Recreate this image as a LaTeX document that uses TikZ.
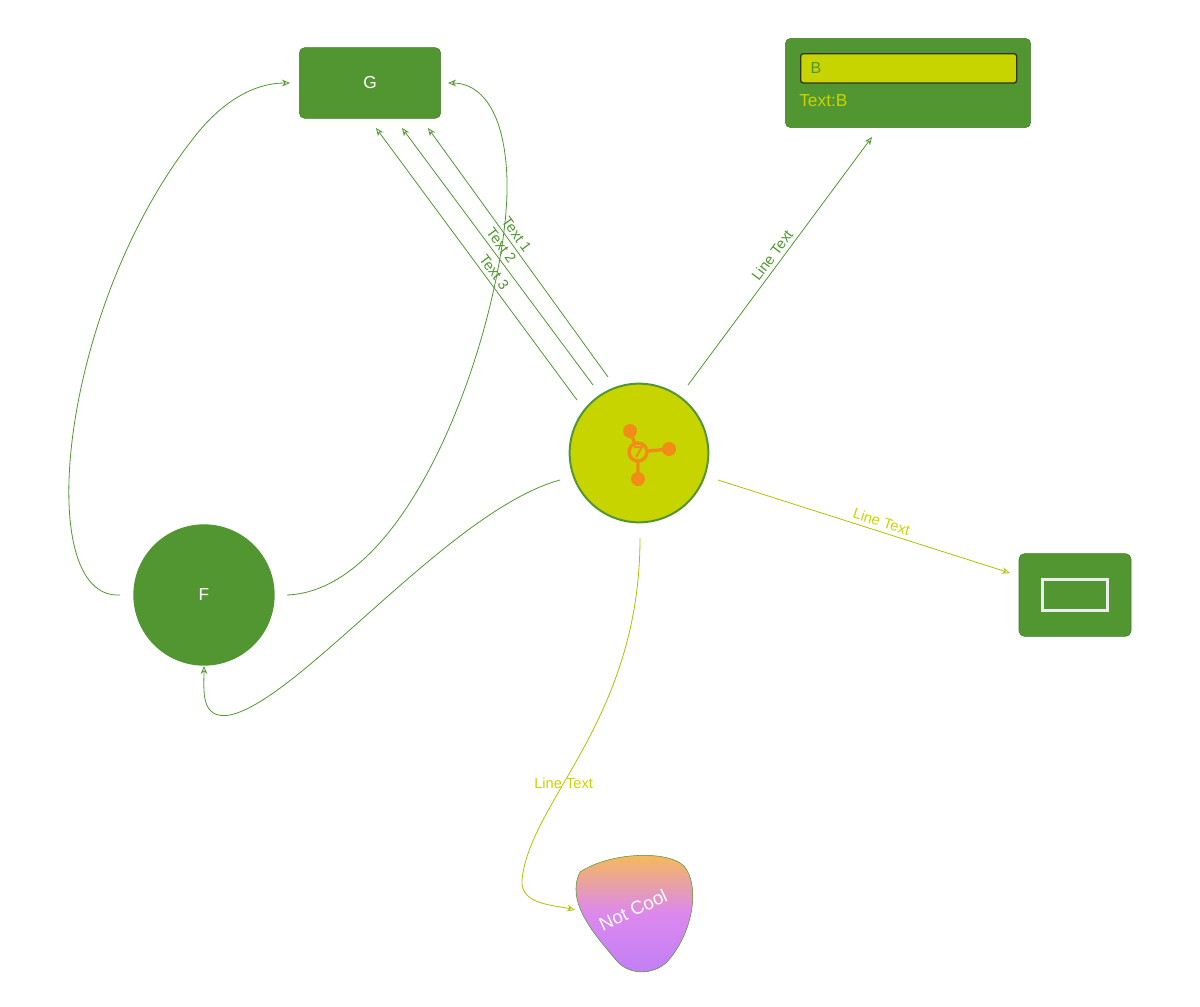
\documentclass[tikz,border=0pt]{standalone}
\usepackage{fontspec}
\setmainfont{Liberation Sans}
\usetikzlibrary{arrows.meta}
\definecolor{leaf}{HTML}{529632}
\definecolor{lime}{HTML}{C8D400}
\definecolor{tang}{HTML}{F28C18}
\definecolor{blobtop}{HTML}{F7BD4F}
\definecolor{blobmid}{HTML}{DC88EE}
\definecolor{blobbot}{HTML}{C07EF5}
\tikzset{
  box/.style={draw=leaf!80!black,fill=leaf,rounded corners=4pt,text=white,font=\fontsize{13}{15}\selectfont},
  link/.style={-{Stealth[open,length=6pt,width=5pt]},leaf,line width=0.6pt},
  ylink/.style={-{Stealth[open,length=6pt,width=5pt]},lime!90!black,line width=0.6pt},
  lbl/.style={font=\fontsize{11}{13}\selectfont,inner sep=3pt}
}
\begin{document}
\begin{tikzpicture}[x=0.75pt,y=-0.75pt]
    \useasboundingbox (0,0) rectangle (1200,1007);
    % nodes
    \node[box,minimum width=106pt,minimum height=53pt] (g) at (370,83) {G};
    \node[box,minimum width=184pt,minimum height=67pt] (b) at (908,83) {};
    \node[draw=black!80,fill=lime,rounded corners=2pt,minimum width=162pt,minimum height=22pt,line width=1pt,
          anchor=north west,text=leaf,inner sep=6pt] (bbar) at (800,53) {};
    \node[anchor=west,text=leaf,font=\fontsize{12}{14}\selectfont] (btxt) at (806,68) {B};
    \node[anchor=west,text=lime,font=\fontsize{13}{15}\selectfont,inner sep=0pt] (bl) at (799,101) {Text:B};
    \node[circle,draw=leaf,line width=1.5pt,fill=lime,minimum size=104pt] (hub) at (639,453) {};
    \node[circle,fill=leaf,minimum size=106pt,text=white,font=\fontsize{13}{15}\selectfont] (f) at (204,595) {F};
    \node[box,minimum width=84pt,minimum height=62pt] (sq) at (1075,595) {};
    \node[draw=white!85!gray,line width=2pt,fill=leaf,minimum width=49pt,minimum height=23pt] (sqin) at (1075,595) {};
    % icon
    \draw[tang,line width=2.5pt] (638,452) -- (630,431) (638,452) -- (669,449) (638,452) -- (638,479);
    \fill[tang] (630,431) circle (7) (669,449) circle (7) (638,479) circle (7);
    \draw[tang,line width=2.5pt,fill=lime] (638,452) circle (9);
    \draw[tang,line width=1.5pt] (634,447) -- (642,447) -- (636,457);
    % blob
    \shade[top color=blobtop,bottom color=blobbot,middle color=blobmid,draw=leaf]
      (580,872) .. controls (610,852) and (668,850) .. (684,866) .. controls (700,885) and (694,932) .. (667,962)
      .. controls (652,976) and (628,975) .. (616,960) .. controls (595,935) and (565,902) .. (580,872) -- cycle;
    \node[text=white,rotate=25,font=\fontsize{14}{16}\selectfont] (nc) at (633,910) {Not Cool};
    \coordinate (blobw) at (575,910);
    % edges to G
    \coordinate (h1) at (608,377); \coordinate (h2) at (593,385); \coordinate (h3) at (577,400);
    \draw[link] (h3) -- node[lbl,sloped,above,pos=0.45,text=leaf] {Text 3} (376,128);
    \draw[link] (h2) -- node[lbl,sloped,above,pos=0.52,text=leaf] {Text 2} (402,128);
    \draw[link] (h1) -- node[lbl,sloped,above,pos=0.55,text=leaf] {Text 1} (428,128);
    % other edges
    \draw[link] (688,385) -- node[lbl,sloped,above,text=leaf] {Line Text} (872,137);
    \draw[ylink] (718,480) -- node[lbl,sloped,above,pos=0.55,text=lime] {Line Text} (1010,573);
    \draw[link] (560,480) .. controls (450,510) and (300,700) .. (230,715) .. controls (200,720) and (204,690) .. (f.south);
    \draw[ylink] (640,538) .. controls (640,720) and (530,800) .. node[lbl,pos=0.62,text=lime] {Line Text} (522,880)
       .. controls (520,905) and (555,905) .. (blobw);
    \draw[link] (120,595) .. controls (30,600) and (60,300) .. (200,130) .. controls (230,95) and (260,83) .. (290,83);
    \draw[link] (287,595) .. controls (420,590) and (510,300) .. (507,180) .. controls (505,110) and (480,83) .. (448,83);
\end{tikzpicture}
\end{document}
